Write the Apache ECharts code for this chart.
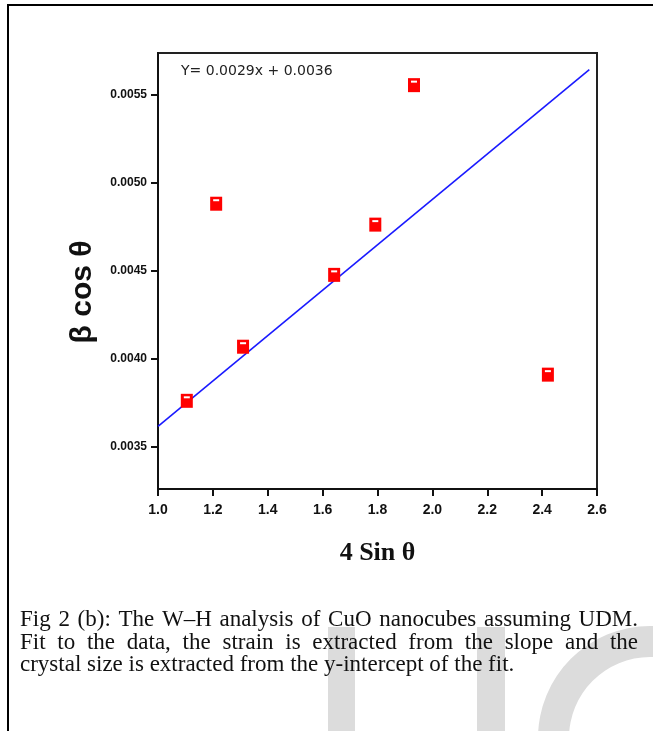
<!DOCTYPE html>
<html lang="en" style="height: 100%">
<head>
  <meta charset="UTF-8" />
  <title>W-H analysis</title>
  <script src="https://cdn.jsdelivr.net/npm/echarts@6/dist/echarts.min.js"></script>
</head>
<body style="height: 100%; margin: 0; background: #fff">
  <div id="main" style="width: 653px; height: 731px"></div>
  <script type="text/javascript">
    // points (x = 4 sin θ, y = β cos θ)
    var xVals = [1.105, 1.31, 1.212, 1.642, 1.792, 1.933, 2.421];
    var yVals = [0.00376, 0.004068, 0.004882, 0.004477, 0.004763, 0.005557, 0.003909];
    // fitted straight line, its two ends
    var fitX = [1.0, 2.572];
    var fitY = [0.003614, 0.005646];
    // y ticks
    var yTicks = [0.0035, 0.0040, 0.0045, 0.0050, 0.0055];
    var yTitle = '\u03b2 cos \u03b8';
    var xTitle = '4 Sin \u03b8';
    var equation = 'Y= 0.0029x + 0.0036';
    var captionLines = [
      'Fig 2 (b): The W\u2013H analysis of CuO nanocubes assuming UDM.',
      'Fit to the data, the strain is extracted from the slope and the',
      'crystal size is extracted from the y-intercept of the fit.'
    ];

    var points = xVals.map(function (x, i) { return [x, yVals[i]]; });
    var fitLine = fitX.map(function (x, i) { return [x, fitY[i]]; });

    // justified caption: place each word of a line with measured widths
    var capFont = '23px "Liberation Serif"';
    var ctx = document.createElement('canvas').getContext('2d');
    ctx.font = capFont;
    function captionLine(text, y, justify) {
      var left = 20, right = 638;
      if (!justify) {
        return [{ type: 'text', x: left, y: y, z: 10,
          style: { text: text, font: capFont, fill: '#111' } }];
      }
      var words = text.split(' ');
      var total = 0;
      words.forEach(function (w) { total += ctx.measureText(w).width; });
      var gap = (right - left - total) / (words.length - 1);
      var x = left, out = [];
      words.forEach(function (w) {
        out.push({ type: 'text', x: x, y: y, z: 10,
          style: { text: w, font: capFont, fill: '#111' } });
        x += ctx.measureText(w).width + gap;
      });
      return out;
    }

    var graphics = [
      // page frame
      { type: 'polyline', z: 1, shape: { points: [[8, 731], [8, 5], [653, 5]] },
        style: { stroke: '#000', lineWidth: 2, fill: null } },
      // watermark
      { type: 'rect', z: 1, shape: { x: 328, y: 627, width: 27, height: 110 }, style: { fill: '#dcdcdc' } },
      { type: 'rect', z: 1, shape: { x: 477, y: 627, width: 28, height: 110 }, style: { fill: '#dcdcdc' } },
      { type: 'sector', z: 1, shape: { cx: 650, cy: 738, r: 112, r0: 81, startAngle: Math.PI, endAngle: 2 * Math.PI, clockwise: true },
        style: { fill: '#dcdcdc' } },
      // fit equation
      { type: 'text', x: 181, y: 64, z: 10,
        style: { text: equation, font: '14px "DejaVu Sans"', fill: '#222' } },
      // y axis title
      { type: 'text', x: 83, y: 292, rotation: Math.PI / 2, z: 10,
        style: { text: yTitle, font: 'bold 30px "Liberation Sans"', fill: '#111', align: 'center', verticalAlign: 'middle' } }
    ];
    graphics = graphics
      .concat(captionLine(captionLines[0], 608, true))
      .concat(captionLine(captionLines[1], 631, true))
      .concat(captionLine(captionLines[2], 653, false));

    var myChart = echarts.init(document.getElementById('main'));
    var option = {
      animation: false,
      backgroundColor: '#fff',
      grid: { left: 158, top: 53, right: 56, bottom: 242, show: true, borderColor: '#222', borderWidth: 2 },
      xAxis: {
        type: 'value', min: 1.0, max: 2.6, interval: 0.2,
        name: xTitle, nameLocation: 'middle', nameGap: 51,
        nameTextStyle: { fontFamily: 'Liberation Serif', fontWeight: 'bold', fontSize: 26, color: '#111' },
        axisLine: { lineStyle: { color: '#111', width: 2 } },
        axisTick: { length: 7, lineStyle: { color: '#111', width: 2 } },
        axisLabel: { margin: 14, fontFamily: 'Liberation Sans', fontWeight: 'bold', fontSize: 14, color: '#111',
          formatter: function (v) { return v.toFixed(1); } },
        splitLine: { show: false }
      },
      yAxis: {
        type: 'value', min: 0.003258, max: 0.00574,
        axisLine: { lineStyle: { color: '#111', width: 2 } },
        axisTick: { length: 7, customValues: yTicks, lineStyle: { color: '#111', width: 2 } },
        axisLabel: { margin: 11, customValues: yTicks, fontFamily: 'Liberation Sans', fontWeight: 'bold', fontSize: 12, color: '#111',
          formatter: function (v) { return v.toFixed(4); } },
        splitLine: { show: false }
      },
      series: [
        {
          name: 'fit', type: 'line', data: fitLine, symbol: 'none',
          lineStyle: { color: '#1a1aff', width: 1.6 }, z: 2
        },
        {
          name: 'data', type: 'scatter', data: points, symbol: 'rect', symbolSize: [12, 14],
          itemStyle: { color: '#ff0000', opacity: 1 }, z: 3
        },
        {
          name: 'mark', type: 'scatter', data: points, symbol: 'rect', symbolSize: [6, 2], symbolOffset: [0, -3.5],
          itemStyle: { color: '#ffffff', opacity: 1 }, z: 4, silent: true
        }
      ],
      graphic: graphics
    };
    myChart.setOption(option);
    window.addEventListener('resize', myChart.resize);
  </script>
</body>
</html>
